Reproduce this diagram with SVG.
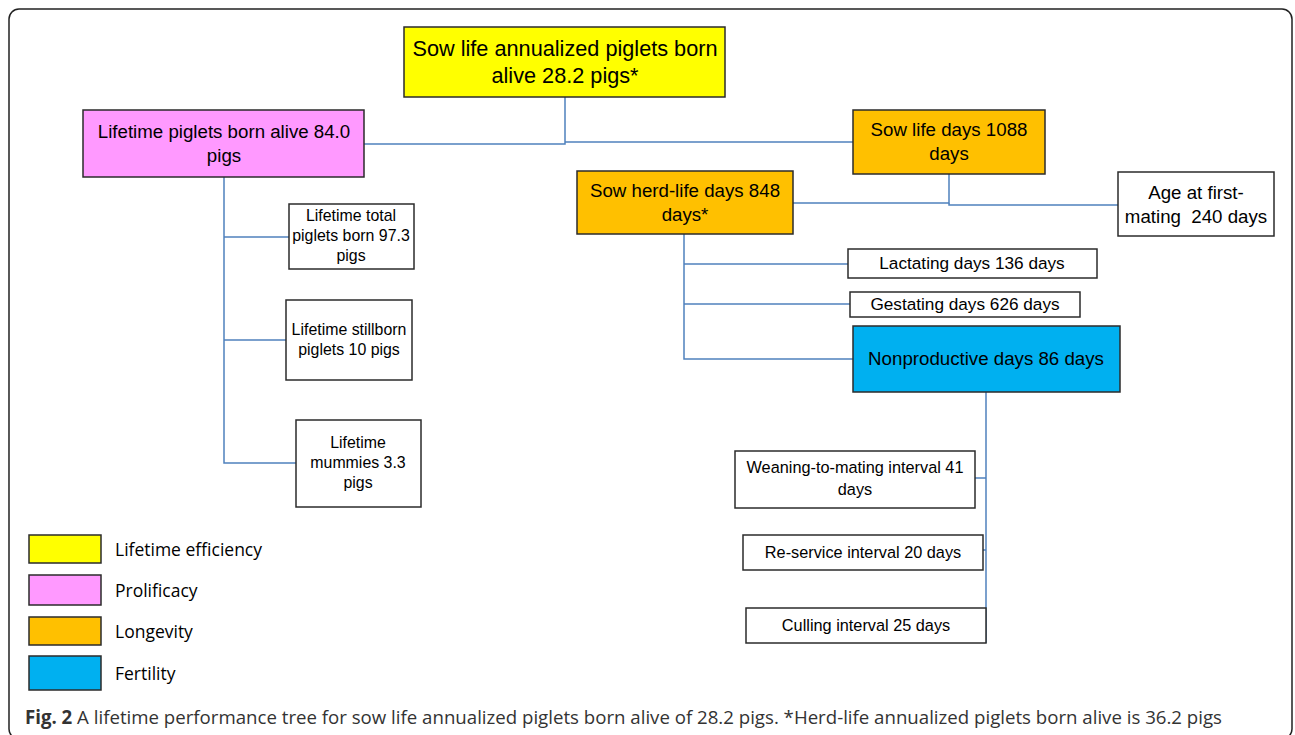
<svg xmlns="http://www.w3.org/2000/svg" width="1295" height="735" viewBox="0 0 1295 735">
<style>
.box{stroke:#2b2b2b;stroke-width:1.5}
.w{fill:#ffffff}
.y{fill:#ffff00}
.p{fill:#ff99ff}
.o{fill:#ffc000}
.b{fill:#00b0f0}
.t{font-family:"Liberation Sans",Arial,sans-serif;fill:#000;text-anchor:middle}
.l{font-family:"Open Sans","Liberation Sans",sans-serif;fill:#000;font-size:17.5px}
.c{fill:none;stroke:#4f81bd;stroke-width:1.5}
</style>
<rect x="0" y="0" width="1295" height="735" fill="#ffffff"/>
<rect x="9" y="9" width="1283" height="730" rx="10" fill="none" stroke="#222" stroke-width="1.5"/>
<g id="connectors">
<polyline class="c" points="364,144 565,144 565,97"/>
<polyline class="c" points="565,142 853,142"/>
<polyline class="c" points="793,203 949,203 949,174"/>
<polyline class="c" points="949,203 949,205 1118,205"/>
<polyline class="c" points="684,234 684,359 853,359"/>
<line class="c" x1="684" y1="264" x2="848" y2="264"/>
<line class="c" x1="684" y1="304" x2="850" y2="304"/>
<polyline class="c" points="224,177 224,463 296,463"/>
<line class="c" x1="224" y1="237" x2="289" y2="237"/>
<line class="c" x1="224" y1="340" x2="286" y2="340"/>
<polyline class="c" points="986,392 986,643"/>
<line class="c" x1="975" y1="478" x2="986" y2="478"/>
<line class="c" x1="983" y1="550" x2="986" y2="550"/>
</g>
<g id="n-top">
<rect class="box y" x="404" y="27" width="321" height="70"/>
<text class="t" x="565" y="56" font-size="21.7">Sow life annualized piglets born</text>
<text class="t" x="565" y="83" font-size="21.7">alive 28.2 pigs*</text>
</g>
<g id="n-born-alive">
<rect class="box p" x="83" y="110" width="281" height="67"/>
<text class="t" x="224" y="138" font-size="18.7">Lifetime piglets born alive 84.0</text>
<text class="t" x="224" y="162" font-size="18.7">pigs</text>
</g>
<g id="n-sow-life">
<rect class="box o" x="853" y="110" width="192" height="64"/>
<text class="t" x="949" y="136" font-size="18.7">Sow life days 1088</text>
<text class="t" x="949" y="160" font-size="18.7">days</text>
</g>
<g id="n-herd-life">
<rect class="box o" x="577" y="171" width="216" height="63"/>
<text class="t" x="685" y="197" font-size="18.7">Sow herd-life days 848</text>
<text class="t" x="685" y="221" font-size="18.7">days*</text>
</g>
<g id="n-age">
<rect class="box w" x="1118" y="172" width="156" height="64"/>
<text class="t" x="1196" y="199" font-size="18.7">Age at first-</text>
<text class="t" x="1196" y="223" font-size="18.7" xml:space="preserve">mating  240 days</text>
</g>
<g id="n-total">
<rect class="box w" x="289" y="204" width="125" height="65"/>
<text class="t" x="351" y="221" font-size="15.9">Lifetime total</text>
<text class="t" x="351" y="241" font-size="15.9">piglets born 97.3</text>
<text class="t" x="351" y="261" font-size="15.9">pigs</text>
</g>
<g id="n-stillborn">
<rect class="box w" x="286" y="300" width="126" height="80"/>
<text class="t" x="349" y="335" font-size="15.9">Lifetime stillborn</text>
<text class="t" x="349" y="355" font-size="15.9">piglets 10 pigs</text>
</g>
<g id="n-mummies">
<rect class="box w" x="296" y="420" width="125" height="87"/>
<text class="t" x="358" y="448" font-size="15.9">Lifetime</text>
<text class="t" x="358" y="468" font-size="15.9">mummies 3.3</text>
<text class="t" x="358" y="488" font-size="15.9">pigs</text>
</g>
<g id="n-lactating">
<rect class="box w" x="848" y="249" width="249" height="29"/>
<text class="t" x="972" y="269" font-size="17.2">Lactating days 136 days</text>
</g>
<g id="n-gestating">
<rect class="box w" x="850" y="292" width="230" height="25"/>
<text class="t" x="965" y="310" font-size="17.2">Gestating days 626 days</text>
</g>
<g id="n-nonproductive">
<rect class="box b" x="853" y="326" width="267" height="66"/>
<text class="t" x="986" y="365" font-size="18.7">Nonproductive days 86 days</text>
</g>
<g id="n-weaning">
<rect class="box w" x="735" y="451" width="240" height="57"/>
<text class="t" x="855" y="473" font-size="16.3">Weaning-to-mating interval 41</text>
<text class="t" x="855" y="495" font-size="16.3">days</text>
</g>
<g id="n-reservice">
<rect class="box w" x="743" y="535" width="240" height="35"/>
<text class="t" x="863" y="558" font-size="16.3">Re-service interval 20 days</text>
</g>
<g id="n-culling">
<rect class="box w" x="746" y="608" width="240" height="35"/>
<text class="t" x="866" y="631" font-size="16.3">Culling interval 25 days</text>
</g>
<g id="legend">
<rect class="box y" x="29" y="535" width="72" height="28"/>
<text class="l" x="115" y="556">Lifetime efficiency</text>
<rect class="box p" x="29" y="575" width="72" height="30"/>
<text class="l" x="115" y="597">Prolificacy</text>
<rect class="box o" x="29" y="617" width="72" height="28"/>
<text class="l" x="115" y="638">Longevity</text>
<rect class="box b" x="29" y="656" width="72" height="34"/>
<text class="l" x="115" y="680">Fertility</text>
</g>
<text x="25" y="724" font-family="'Open Sans','Liberation Sans',sans-serif" font-size="19" fill="#333" textLength="1197" lengthAdjust="spacingAndGlyphs"><tspan font-weight="bold">Fig. 2</tspan> A lifetime performance tree for sow life annualized piglets born alive of 28.2 pigs. *Herd-life annualized piglets born alive is 36.2 pigs</text>
</svg>
